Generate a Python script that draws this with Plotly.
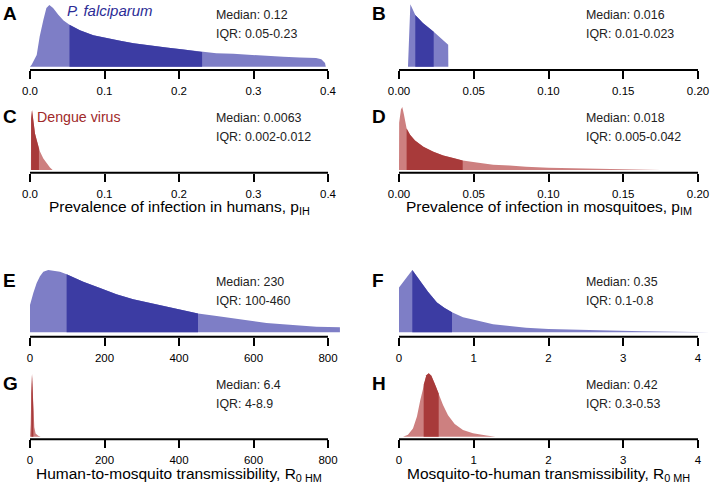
import plotly.graph_objects as go

# ---------------- data ----------------
# densities are given relative to each panel's own peak (peak = 1)

# A: P. falciparum, prevalence in humans
A_x = [0.0, 0.0022, 0.009, 0.013, 0.018, 0.022, 0.026, 0.031, 0.038, 0.045, 0.053,
       0.067, 0.085, 0.103, 0.121, 0.139, 0.161, 0.183, 0.206, 0.231, 0.250, 0.273,
       0.295, 0.317, 0.340, 0.362, 0.384, 0.391, 0.396, 0.397]
A_h = [0.0, 0.03, 0.19, 0.49, 0.76, 0.95, 1.0, 0.95, 0.84, 0.75, 0.68,
       0.59, 0.51, 0.46, 0.42, 0.38, 0.34, 0.31, 0.28, 0.24, 0.22, 0.21,
       0.19, 0.17, 0.16, 0.15, 0.14, 0.12, 0.06, 0.0]
A_iqr = [0.053, 0.231]

# B: P. falciparum, prevalence in mosquitoes
B_x = [0.0060, 0.0068, 0.0076, 0.0109, 0.016, 0.0232, 0.0283, 0.0317, 0.0329, 0.0330]
B_h = [0.0, 0.5, 1.0, 0.83, 0.70, 0.56, 0.45, 0.39, 0.35, 0.0]
B_iqr = [0.0109, 0.0232]

# C: Dengue, prevalence in humans
C_x = [0.0012, 0.0015, 0.0027, 0.0045, 0.0067, 0.009, 0.012, 0.0134, 0.0179, 0.0224, 0.0268, 0.0304]
C_h = [0.0, 0.85, 1.0, 0.83, 0.61, 0.50, 0.36, 0.31, 0.19, 0.11, 0.04, 0.0]
C_iqr = [0.0015, 0.012]

# D: Dengue, prevalence in mosquitoes
D_x = [0.0, 0.0001, 0.0013, 0.0022, 0.0033, 0.0051, 0.0074, 0.0107, 0.0163, 0.023, 0.0296,
       0.0363, 0.0426, 0.052, 0.063, 0.074, 0.085, 0.1, 0.12, 0.15, 0.175]
D_h = [0.0, 0.75, 0.96, 1.0, 0.88, 0.66, 0.56, 0.47, 0.37, 0.29, 0.23,
       0.19, 0.15, 0.12, 0.085, 0.07, 0.05, 0.035, 0.025, 0.012, 0.0]
D_iqr = [0.0051, 0.0426]

# E: P. falciparum, R0 human-to-mosquito
E_x = [0, 0, 8.9, 17.9, 26.8, 35.8, 49, 62.6, 80.4, 98.3, 143, 188, 232, 277, 322, 366,
       411, 451, 501, 545, 590, 635, 679, 724, 769, 833, 834]
E_h = [0.0, 0.44, 0.63, 0.79, 0.90, 0.97, 1.0, 0.99, 0.97, 0.93, 0.81, 0.71, 0.61, 0.53, 0.47, 0.41,
       0.36, 0.30, 0.26, 0.22, 0.18, 0.15, 0.13, 0.11, 0.09, 0.08, 0.0]
E_iqr = [98.3, 451]

# F: P. falciparum, R0 mosquito-to-human
F_x = [0, 0, 0.178, 0.276, 0.388, 0.508, 0.611, 0.709, 0.856, 1.003, 1.258, 1.48, 1.70,
       2.0, 2.37, 2.82, 3.26, 3.71, 4.16]
F_h = [0.0, 0.72, 1.0, 0.84, 0.65, 0.48, 0.39, 0.32, 0.24, 0.20, 0.13, 0.10, 0.075,
       0.053, 0.037, 0.027, 0.016, 0.011, 0.0]
F_iqr = [0.178, 0.709]

# G: Dengue, R0 human-to-mosquito
G_x = [0, 1.8, 3.6, 5.4, 7.2, 9, 11.6, 15, 22, 28.6]
G_h = [0.0, 0.2, 0.7, 1.0, 0.75, 0.4, 0.15, 0.05, 0.015, 0.0]
G_iqr = [3.6, 9]

# H: Dengue, R0 mosquito-to-human
H_x = [0.054, 0.12, 0.187, 0.24, 0.285, 0.33, 0.366, 0.397, 0.433, 0.477, 0.531, 0.589,
       0.656, 0.745, 0.856, 0.99, 1.17, 1.28, 1.29]
H_h = [0.0, 0.03, 0.13, 0.32, 0.58, 0.82, 0.97, 1.0, 0.96, 0.84, 0.68, 0.50,
       0.34, 0.20, 0.105, 0.053, 0.02, 0.01, 0.0]
H_iqr = [0.33, 0.531]

PANEL_LETTERS = ["A", "B", "C", "D", "E", "F", "G", "H"]
MEDIAN_TEXT = ["Median: 0.12", "Median: 0.016", "Median: 0.0063", "Median: 0.018",
               "Median: 230", "Median: 0.35", "Median: 6.4", "Median: 0.42"]
IQR_TEXT = ["IQR: 0.05-0.23", "IQR: 0.01-0.023", "IQR: 0.002-0.012", "IQR: 0.005-0.042",
            "IQR: 100-460", "IQR: 0.1-0.8", "IQR: 4-8.9", "IQR: 0.3-0.53"]

TICKS_PH = [0, 0.1, 0.2, 0.3, 0.4]
TICKLAB_PH = ["0.0", "0.1", "0.2", "0.3", "0.4"]
TICKS_PM = [0, 0.05, 0.10, 0.15, 0.20]
TICKLAB_PM = ["0.00", "0.05", "0.10", "0.15", "0.20"]
TICKS_RHM = [0, 200, 400, 600, 800]
TICKLAB_RHM = ["0", "200", "400", "600", "800"]
TICKS_RMH = [0, 1, 2, 3, 4]
TICKLAB_RMH = ["0", "1", "2", "3", "4"]

TITLE_PH = "Prevalence of infection in humans, p<sub>IH</sub>"
TITLE_PM = "Prevalence of infection in mosquitoes, p<sub>IM</sub>"
TITLE_RHM = "Human-to-mosquito transmissibility, R<sub>0 HM</sub>"
TITLE_RMH = "Mosquito-to-human transmissibility, R<sub>0 MH</sub>"

# ---------------- styling / layout ----------------
W, H = 714, 486
FONT = "Liberation Sans, Arial, Helvetica, sans-serif"
BLUE_L, BLUE_D = "#7e7ec6", "#3c3ca3"
RED_L, RED_D = "#cd8080", "#a83a3a"

COL_PX = [(30, 328), (399, 698)]          # pixel positions of first/last tick
ROW_PX = [(70, 66.7), (172.7, 170), (336.7, 332.3), (439.3, 436.7)]  # (axis line y, fill baseline y)
PEAK_PX = [5, 4.3, 110, 107, 270, 270, 374, 373.3]

xs = [A_x, B_x, C_x, D_x, E_x, F_x, G_x, H_x]
hs = [A_h, B_h, C_h, D_h, E_h, F_h, G_h, H_h]
iqrs = [A_iqr, B_iqr, C_iqr, D_iqr, E_iqr, F_iqr, G_iqr, H_iqr]
ticks = [(TICKS_PH, TICKLAB_PH), (TICKS_PM, TICKLAB_PM)] * 2 + [(TICKS_RHM, TICKLAB_RHM), (TICKS_RMH, TICKLAB_RMH)] * 2
colors = [(BLUE_L, BLUE_D)] * 2 + [(RED_L, RED_D)] * 2 + [(BLUE_L, BLUE_D)] * 2 + [(RED_L, RED_D)] * 2

fig = go.Figure()
annotations = []
shapes = []


def px(x):
    return x / W


def py(y):
    return 1 - y / H


for i in range(8):
    row, col = i // 2, i % 2
    n = i + 1
    xa = "x" if n == 1 else f"x{n}"
    ya = "y" if n == 1 else f"y{n}"
    tv, tt = ticks[i]
    lo, hi = tv[0], tv[-1]
    span = hi - lo
    p0, p1 = COL_PX[col]
    scale = (p1 - p0) / span
    pad = 0.04 * span
    xr = [lo - pad, hi + pad]
    dom_x = [px(p0 - pad * scale), min(1.0, px(p1 + pad * scale))]
    if dom_x[1] >= 1.0:
        xr = [lo - pad, lo + (W - (p0 - pad * scale)) / scale - pad]
    axis_y, base_y = ROW_PX[row]
    peak_y = PEAK_PX[i]
    top_y = peak_y - 3
    unit = base_y - peak_y
    yr = [(base_y - axis_y) / unit, (base_y - top_y) / unit]
    dom_y = [py(axis_y), py(top_y)]

    light, dark = colors[i]
    x, h = xs[i], hs[i]
    fig.add_trace(go.Scatter(x=x, y=h, mode="lines", fill="tozeroy", fillcolor=light,
                             line=dict(width=0, color=light), xaxis=xa, yaxis=ya,
                             hoverinfo="skip", showlegend=False))
    q0, q1 = iqrs[i]
    sx = [v for v in x if q0 <= v <= q1]
    sh = [hh for v, hh in zip(x, h) if q0 <= v <= q1]
    fig.add_trace(go.Scatter(x=sx, y=sh, mode="lines", fill="tozeroy", fillcolor=dark,
                             line=dict(width=0, color=dark), xaxis=xa, yaxis=ya,
                             hoverinfo="skip", showlegend=False))

    xkey = "xaxis" if n == 1 else f"xaxis{n}"
    ykey = "yaxis" if n == 1 else f"yaxis{n}"
    fig.layout[xkey] = dict(domain=dom_x, range=xr, anchor=ya, showgrid=False, zeroline=False,
                            showline=False, ticks="outside", ticklen=8, tickwidth=2,
                            tickcolor="black", tickvals=tv, ticktext=tt,
                            tickfont=dict(size=11.5, color="black", family=FONT),
                            ticklabelstandoff=2, fixedrange=True)
    fig.layout[ykey] = dict(domain=dom_y, range=yr, anchor=xa, visible=False, fixedrange=True)

    shapes.append(dict(type="line", xref=xa, yref=f"{ya} domain", x0=lo, x1=hi, y0=0, y1=0,
                       line=dict(color="black", width=2)))

    lx = 1 if col == 0 else 370
    ly = [14, 117, 280, 383][row]
    annotations.append(dict(x=px(lx), y=py(ly), xref="paper", yref="paper", text=f"<b>{PANEL_LETTERS[i]}</b>",
                            showarrow=False, xanchor="left", yanchor="middle",
                            font=dict(size=19, color="black", family=FONT)))
    mx = 214 if col == 0 else 584
    my = [15, 118, 282, 385][row]
    annotations.append(dict(x=px(mx), y=py(my), xref="paper", yref="paper", text=MEDIAN_TEXT[i],
                            showarrow=False, xanchor="left", yanchor="middle",
                            font=dict(size=12.4, color="#222222", family=FONT)))
    annotations.append(dict(x=px(mx), y=py(my + 18.5), xref="paper", yref="paper", text=IQR_TEXT[i],
                            showarrow=False, xanchor="left", yanchor="middle",
                            font=dict(size=12.4, color="#222222", family=FONT)))

annotations.append(dict(x=px(65), y=py(11), xref="paper", yref="paper", text="<i>P. falciparum</i>",
                        showarrow=False, xanchor="left", yanchor="middle",
                        font=dict(size=15, color="#2c2c96", family=FONT)))
annotations.append(dict(x=px(35), y=py(116.5), xref="paper", yref="paper", text="Dengue virus",
                        showarrow=False, xanchor="left", yanchor="middle",
                        font=dict(size=14.2, color="#a02a2a", family=FONT)))

for text, cx, cy in [(TITLE_PH, 179, 207.5), (TITLE_PM, 548.5, 207.5),
                     (TITLE_RHM, 179, 474), (TITLE_RMH, 548.5, 474)]:
    annotations.append(dict(x=px(cx), y=py(cy), xref="paper", yref="paper", text=text,
                            showarrow=False, xanchor="center", yanchor="middle",
                            font=dict(size=15.5, color="black", family=FONT)))

fig.update_layout(width=W, height=H, margin=dict(l=0, r=0, t=0, b=0),
                  paper_bgcolor="white", plot_bgcolor="white",
                  annotations=annotations, shapes=shapes, showlegend=False)

fig.write_html("out.html", config={"displayModeBar": False},
               post_script="document.body.style.margin='0';document.body.style.padding='0';"
                           "document.body.style.overflow='hidden';")
